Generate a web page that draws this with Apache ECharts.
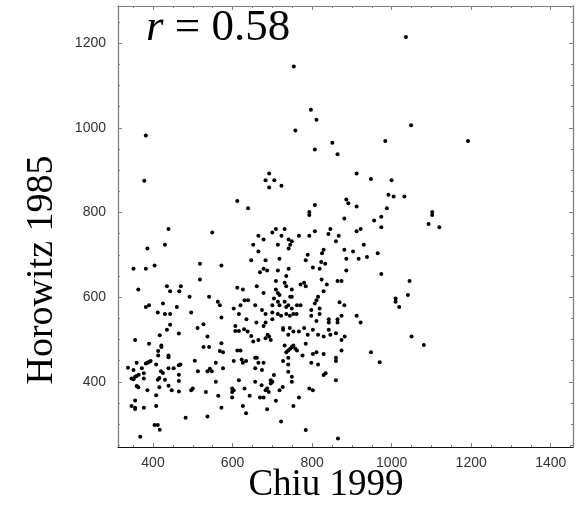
<!DOCTYPE html>
<html><head><meta charset="utf-8">
<script src="https://cdn.jsdelivr.net/npm/echarts@6/dist/echarts.min.js"></script>
<style>html,body{margin:0;padding:0;background:#fff}#c{width:577px;height:506px}</style>
</head><body><div id="c"></div>
<script>
// Chiu 1999 (x values)
const chiu = [
  382,754,797,811,758,851,807,864,1036,1049,984,1192,
  378,439,430,386,351,382,404,518,518,363,435,470,443,466,492,382,390,425,460,
  692,683,705,692,723,612,639,807,793,793,
  549,709,731,700,807,846,841,867,665,678,
  723,767,793,741,749,860,652,714,745,741,
  665,829,825,789,718,647,683,784,823,833,
  572,802,819,678,687,714,741,669,735,709,
  824,731,735,771,780,784,837,864,661,709,
  714,678,749,829,612,626,541,563,568,630,
  639,718,704,714,745,749,731,811,815,807,
  657,700,718,735,740,762,771,620,603,674,
  749,798,819,869,
  912,948,1000,992,1005,1032,886,891,912,988,
  881,956,974,974,1102,1102,1093,1120,912,922,
  930,881,903,886,917,938,965,886,974,874,
  1045,1041,1010,1010,1019,881,
  412,430,443,496,512,443,435,417,465,355,
  390,421,421,413,413,439,439,394,386,382,
  390,359,408,337,351,372,439,452,465,469,
  505,513,420,425,377,364,359,355,346,351,
  377,465,412,416,430,465,359,363,386,416,
  439,447,465,496,500,408,355,346,355,355,
  377,408,482,404,412,417,368,
  527,572,616,635,683,683,700,700,714,722,
  735,744,753,761,798,819,842,842,864,864,
  660,678,607,607,616,629,638,647,652,665,
  683,688,692,696,727,727,744,753,740,767,
  780,789,802,811,815,829,846,842,860,537,
  527,541,572,568,576,612,620,731,753,749,
  745,740,735,758,762,784,776,802,811,829,
  860,860,603,623,626,634,657,661,665,678,
  657,674,727,740,740,740,798,815,537,548,
  543,558,576,829,834,860,749,749,704,696,
  700,696,657,673,687,683,691,616,558,533,
  564,599,599,603,630,643,669,678,718,726,
  767,793,802,599,572,626,634,687,709,753,
  537,722,784,865,
  874,912,922,874,882,874,948,970,1050,1081
];
// Horowitz 1985 (y values), same order
const horowitz = [
  982,1145,1043,1019,994,965,949,938,1215,1006,969,969,
  875,761,724,715,667,667,675,679,642,618,626,626,614,614,601,577,581,585,577,
  892,876,876,859,863,827,810,818,801,794,
  753,761,761,753,756,761,749,745,745,736,
  745,745,745,736,732,732,724,724,724,715,
  708,712,704,700,691,687,687,687,683,679,
  675,670,667,667,663,663,667,659,650,638,
  642,634,626,630,634,626,630,638,626,618,
  610,610,618,614,622,618,601,589,581,593,
  593,605,597,589,601,601,589,593,601,585,
  581,581,581,577,581,581,581,581,573,570,
  573,570,573,588,
  892,879,876,842,838,838,831,822,814,810,
  786,781,790,765,801,794,773,765,756,761,
  724,712,708,691,691,695,704,663,655,638,
  638,605,597,589,577,581,
  564,560,560,564,527,535,523,510,514,499,
  490,486,482,473,462,462,458,449,445,443,
  447,445,441,433,428,432,432,432,439,441,
  450,425,425,421,420,417,414,412,408,406,
  408,417,405,409,405,402,390,387,380,387,
  391,380,377,380,384,368,356,343,339,336,
  339,343,315,298,298,287,270,
  536,552,560,548,560,540,564,548,560,556,
  560,556,560,560,556,560,548,540,548,540,
  540,532,532,520,520,524,519,508,495,499,
  503,511,507,499,527,523,527,519,511,519,
  527,511,523,544,511,507,511,523,515,507,
  482,482,491,473,470,474,474,486,486,482,
  478,474,470,478,474,490,462,466,470,466,
  457,449,449,453,445,449,457,457,445,445,
  432,428,449,457,441,424,445,441,425,425,
  431,445,432,416,420,404,412,400,416,404,
  400,396,400,392,384,380,376,404,400,376,
  367,384,376,380,384,367,363,363,380,388,
  363,384,380,363,339,343,326,335,355,343,
  318,306,286,266,
  556,556,540,499,507,474,470,446,507,487
];
const xMajor = [400, 600, 800, 1000, 1200, 1400];
const yMajor = [400, 600, 800, 1000, 1200];
const xMinor = [350,450,500,550,650,700,750,850,900,950,1050,1100,1150,1250,1300,1350,1450];
const yMinor = [250,300,350,450,500,550,650,700,750,850,900,950,1050,1100,1150,1250];
const xRange = [312, 1456];
const yRange = [246, 1288];
const rLabel = '0.58';
const xTitle = 'Chiu 1999';
const yTitle = 'Horowitz 1985';

const pts = chiu.map((x, i) => [x, horowitz[i]]);
const frame = '#808080';
const gridBox = { left: 118, top: 6, width: 455, height: 441 };
const plain = v => String(v);

function xAx(grid, pos, ticks, major, lineColor, showLine) {
  return {
    type: 'value', gridIndex: grid, position: pos, min: xRange[0], max: xRange[1],
    axisLine: { show: showLine, lineStyle: { color: lineColor, width: 1 } },
    axisTick: { show: true, inside: true, length: major ? 4 : 2, customValues: ticks, lineStyle: { color: frame } },
    axisLabel: (major && pos === 'bottom') ? { show: true, customValues: ticks, formatter: plain, margin: 9, color: '#333', fontSize: 14, fontFamily: 'Liberation Sans, Arial, sans-serif' } : { show: false },
    splitLine: { show: false }
  };
}
function yAx(grid, pos, ticks, major, showLine) {
  return {
    type: 'value', gridIndex: grid, position: pos, min: yRange[0], max: yRange[1],
    axisLine: { show: showLine, lineStyle: { color: frame, width: 1.3 } },
    axisTick: { show: true, inside: true, length: major ? 4 : 2, customValues: ticks, lineStyle: { color: frame } },
    axisLabel: (major && pos === 'left') ? { show: true, customValues: ticks, formatter: plain, margin: 12, color: '#333', fontSize: 14, fontFamily: 'Liberation Sans, Arial, sans-serif' } : { show: false },
    splitLine: { show: false }
  };
}

const chart = echarts.init(document.getElementById('c'), null, { renderer: 'canvas' });
chart.setOption({
  animation: false,
  backgroundColor: '#fff',
  grid: [Object.assign({}, gridBox), Object.assign({}, gridBox)],
  xAxis: [
    xAx(0, 'bottom', xMajor, true, '#111', true),
    xAx(0, 'top', xMajor, true, frame, true),
    xAx(1, 'bottom', xMinor, false, frame, false),
    xAx(1, 'top', xMinor, false, frame, false)
  ],
  yAxis: [
    yAx(0, 'left', yMajor, true, true),
    yAx(0, 'right', yMajor, true, true),
    yAx(1, 'left', yMinor, false, false),
    yAx(1, 'right', yMinor, false, false)
  ],
  series: [{
    type: 'scatter', xAxisIndex: 0, yAxisIndex: 0,
    data: pts, symbol: 'circle', symbolSize: 4,
    itemStyle: { color: '#000', opacity: 1 }
  }],
  graphic: [
    {
      type: 'text', left: 146, top: 6,
      style: {
        text: '{r|r} = ' + rLabel,
        font: '45px "Liberation Serif", "Times New Roman", serif',
        fill: '#000',
        rich: { r: { fontStyle: 'italic', fontSize: 45, fontFamily: '"Liberation Serif", serif' } }
      }
    },
    {
      type: 'text', x: 326, y: 485,
      style: { text: xTitle, font: '37px "Liberation Serif", "Times New Roman", serif', fill: '#000', textAlign: 'center', textVerticalAlign: 'middle' }
    },
    {
      type: 'text', x: 42, y: 270, rotation: Math.PI / 2,
      style: { text: yTitle, font: '38px "Liberation Serif", "Times New Roman", serif', fill: '#000', textAlign: 'center', textVerticalAlign: 'middle' }
    }
  ]
});
</script>
</body></html>
